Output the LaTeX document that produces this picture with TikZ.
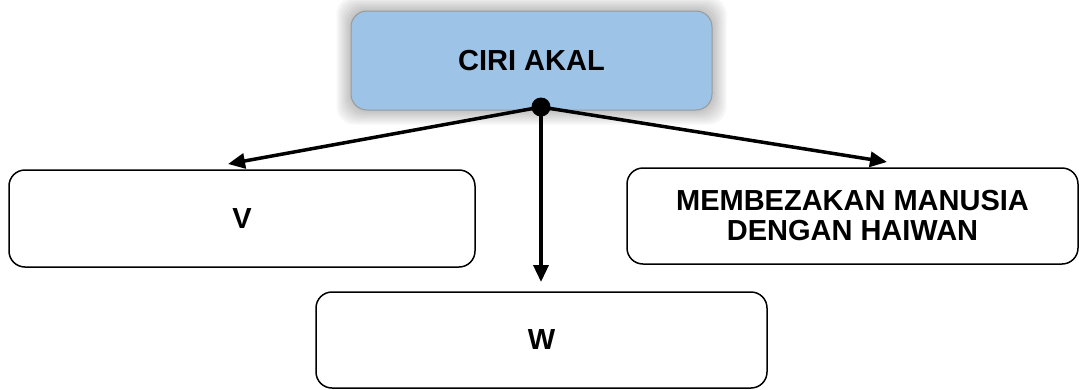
\documentclass[tikz,border=0pt]{standalone}
\usepackage{fontspec}
\setmainfont{Liberation Sans}
\usetikzlibrary{arrows.meta,backgrounds,calc}
\definecolor{akalblue}{RGB}{157,195,230}

\begin{document}
\begin{tikzpicture}[x=1pt,y=-1pt,
	box/.style={draw,line width=1.5pt,rounded corners=16pt,inner sep=0pt,
		font=\bfseries\fontsize{29}{30}\selectfont,align=center},
	link/.style={-{Triangle[length=17pt,width=15pt]},line width=3.5pt}]
\useasboundingbox (0,0) rectangle (1079,389);

\node[box,fill=akalblue,draw=gray!80,line width=1pt,minimum width=361pt,minimum height=99pt] (akal) at (531.5,60.5) {CIRI AKAL};
\node[box,minimum width=466pt,minimum height=97pt] (v) at (242,218.5) {V};
\node[box,minimum width=451pt,minimum height=96pt] (beza) at (852.5,216) {MEMBEZAKAN MANUSIA\\DENGAN HAIWAN};
\node[box,minimum width=451pt,minimum height=96pt] (w) at (541.5,340) {W};

% glow round the top box
\begin{scope}[on background layer]
	\foreach \d in {2,4,...,14}
		\fill[black,opacity=0.035,rounded corners=18pt] ($(akal.south west)+(-\d pt,-\d pt)$) rectangle ($(akal.north east)+(\d pt,\d pt)$);
\end{scope}

\coordinate (tv) at (228,164);
\coordinate (tw) at (541,282);
\coordinate (tb) at (887,162);
\node[circle,fill,inner sep=0pt,minimum size=19pt] (hub) at (541,107) {};

\draw[link] (hub.center) -- (tv);
\draw[link] (hub.center) -- (tw);
\draw[link] (hub.center) -- (tb);

\end{tikzpicture}
\end{document}
